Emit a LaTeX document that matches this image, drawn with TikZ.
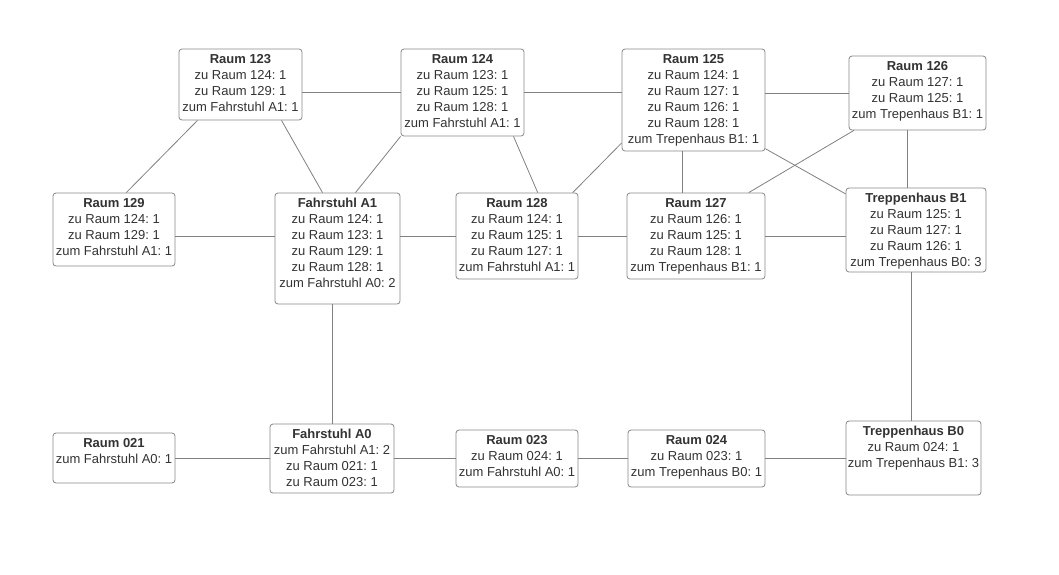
\documentclass[tikz,border=0pt]{standalone}
\usepackage{fontspec}
\setmainfont{Liberation Sans}
\usepackage{tikz}
\frenchspacing
\definecolor{boxgray}{RGB}{136,136,136}
\definecolor{linegray}{RGB}{128,128,128}
\definecolor{txtgray}{RGB}{51,51,51}
\newcommand{\roomtext}[4]{%
  \parbox[c][#2pt][t]{#1pt}{\centering\rule{0pt}{14.7pt}\textbf{#3}\\#4}}
\tikzset{
  room/.style={ draw=boxgray, rounded corners=3pt, fill=white, inner sep=0pt, text=txtgray, font=\fontsize{13}{16}\selectfont }
}
\tikzset{
  conn/.style={ draw=linegray, line width=0.8pt }
}
\begin{document}
\begin{tikzpicture}[x=1pt, y=-1pt, line width=0.8pt]
      \useasboundingbox (0,0) rectangle (1059,574);

      \node[room] (r123) at (240.5, 84.5) {\roomtext{123}{71}{Raum 123}{zu Raum 124: 1\\zu Raum 129: 1\\zum Fahrstuhl A1: 1}};
      \node[room] (r124) at (462.5, 92.5) {\roomtext{123}{87}{Raum 124}{zu Raum 123: 1\\zu Raum 125: 1\\zu Raum 128: 1\\zum Fahrstuhl A1: 1}};
      \node[room] (r125) at (693.5, 100) {\roomtext{143}{102}{Raum 125}{zu Raum 124: 1\\zu Raum 127: 1\\zu Raum 126: 1\\zu Raum 128: 1\\zum Trepenhaus B1: 1}};
      \node[room] (r126) at (917.5, 93) {\roomtext{137}{74}{Raum 126}{zu Raum 127: 1\\zu Raum 125: 1\\zum Trepenhaus B1: 1}};

      \node[room] (r129) at (114, 229.5) {\roomtext{122}{73}{Raum 129}{zu Raum 124: 1\\zu Raum 129: 1\\zum Fahrstuhl A1: 1}};
      \node[room] (A1) at (337.5, 248.5) {\roomtext{125}{111}{Fahrstuhl A1}{zu Raum 124: 1\\zu Raum 123: 1\\zu Raum 129: 1\\zu Raum 128: 1\\zum Fahrstuhl A0: 2}};
      \node[room] (r128) at (517, 236) {\roomtext{122}{86}{Raum 128}{zu Raum 124: 1\\zu Raum 125: 1\\zu Raum 127: 1\\zum Fahrstuhl A1: 1}};
      \node[room] (r127) at (696, 236) {\roomtext{138}{86}{Raum 127}{zu Raum 126: 1\\zu Raum 125: 1\\zu Raum 128: 1\\zum Trepenhaus B1: 1}};
      \node[room] (B1) at (916, 230) {\roomtext{140}{84}{Treppenhaus B1}{zu Raum 125: 1\\zu Raum 127: 1\\zu Raum 126: 1\\zum Trepenhaus B0: 3}};

      \node[room] (r021) at (114, 458) {\roomtext{122}{50}{Raum 021}{zum Fahrstuhl A0: 1}};
      \node[room] (A0) at (332, 458.5) {\roomtext{124}{69}{Fahrstuhl A0}{zum Fahrstuhl A1: 2\\zu Raum 021: 1\\zu Raum 023: 1}};
      \node[room] (r023) at (517, 458.5) {\roomtext{122}{57}{Raum 023}{zu Raum 024: 1\\zum Fahrstuhl A0: 1}};
      \node[room] (r024) at (696.5, 458.5) {\roomtext{137}{57}{Raum 024}{zu Raum 023: 1\\zum Trepenhaus B0: 1}};
      \node[room] (B0) at (913.5, 458) {\roomtext{135}{74}{Treppenhaus B0}{zu Raum 024: 1\\zum Trepenhaus B1: 3}};

      % upper floor
      \draw[conn] (r123.east |- r124.west) -- (r124.west);
      \draw[conn] (r124.east) -- (r124.east -| r125.west);
      \draw[conn] (r125.east |- r126.west) -- (r126.west);
      \draw[conn] ([xshift=-43pt]r123.south) -- ([xshift=12.3pt]r129.north);
      \draw[conn] ([xshift=41pt]r123.south) -- ([xshift=-15pt]A1.north);
      \draw[conn] (r124.south west) -- ([xshift=18pt]A1.north);
      \draw[conn] ([xshift=51pt]r124.south) -- ([xshift=20.7pt]r128.north);
      \draw[conn] ([yshift=-43pt]r125.west) -- ([xshift=-5.7pt]r128.north east);
      \draw[conn] ([xshift=-11pt]r125.south) -- ([xshift=-11pt]r125.south |- r127.north);
      \draw[conn] ([yshift=2.7pt]r125.south east) -- ([yshift=-6.3pt]B1.north west);
      \draw[conn] ([xshift=5.3pt]r126.south west) -- ([xshift=-16.7pt]r127.north east);
      \draw[conn] ([xshift=-10pt]r126.south) -- ([xshift=-10pt]r126.south |- B1.north);
      \draw[conn] ([yshift=-6.5pt]r129.east) -- ([yshift=-6.5pt]r129.east -| A1.west);
      \draw[conn] (A1.east |- r128.west) -- (r128.west);
      \draw[conn] (r128.east) -- (r127.west);
      \draw[conn] (r127.east) -- (r127.east -| B1.west);

      % between the floors
      \draw[conn] (A0.north |- A1.south) -- (A0.north);
      \draw[conn] ([xshift=-2.5pt]B0.north |- B1.south) -- ([xshift=-2.5pt]B0.north);

      % ground floor
      \draw[conn] (r021.east) -- (r021.east -| A0.west);
      \draw[conn] (A0.east) -- (A0.east -| r023.west);
      \draw[conn] (r023.east) -- (r024.west);
      \draw[conn] (r024.east) -- (r024.east -| B0.west);
    \end{tikzpicture}
\end{document}
